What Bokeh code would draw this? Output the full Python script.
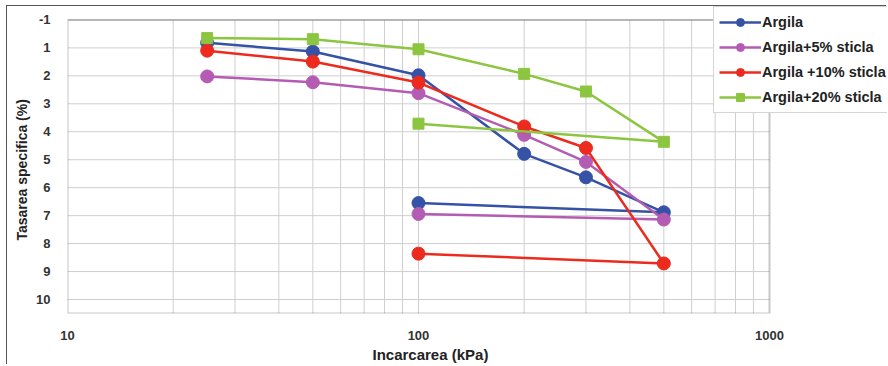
from bokeh.plotting import figure
from bokeh.models import (Range1d, FixedTicker, Legend, LegendItem, BoxAnnotation,
                          PrintfTickFormatter, Title)
from bokeh.embed import file_html
from bokeh.resources import INLINE

# Data: loading path then unloading back to 100 kPa
pressure = [25, 50, 100, 200, 300, 500, 100]
argila = [0.82, 1.13, 1.98, 4.79, 5.63, 6.88, 6.55]
argila5 = [2.02, 2.23, 2.62, 4.11, 5.08, 7.14, 6.94]
argila10 = [1.10, 1.49, 2.24, 3.81, 4.58, 8.71, 8.36]
argila20 = [0.65, 0.69, 1.05, 1.93, 2.56, 4.36, 3.71]

series_names = ["Argila", "Argila+5% sticla", "Argila +10% sticla", "Argila+20% sticla"]
series_values = [argila, argila5, argila10, argila20]
series_colors = ["#3652a6", "#b45cb4", "#ec2a1e", "#8cc640"]
series_markers = ["circle", "circle", "circle", "square"]

y_ticks = [0, 1, 2, 3, 4, 5, 6, 7, 8, 9, 10]
y_tick_labels = {0: "-1"}
x_ticks = [10, 100, 1000]
x_grid = [20, 30, 40, 50, 60, 70, 80, 90, 100, 200, 300, 400, 500, 600, 700, 800, 900]
x_min, x_max = 10, 1000
y_min, y_max = 0, 10.5

# frame extends to the right of x_max so the legend can overlap like the original
x_view_end = 10 ** (1 + 820 / 351)
y_view_top = -0.48

p = figure(width=880, height=359, x_axis_type="log",
           x_range=Range1d(x_min, x_view_end), y_range=Range1d(y_max, y_view_top),
           output_backend="svg", toolbar_location=None,
           min_border_left=60, min_border_right=0, min_border_top=0, min_border_bottom=52)

p.outline_line_color = None
p.background_fill_color = "white"
p.xgrid.visible = False
p.ygrid.visible = False

# grid lines restricted to the data box
p.segment(x0=x_grid, y0=[y_min] * len(x_grid), x1=x_grid, y1=[y_max] * len(x_grid),
          line_color="#cfcfcf", line_width=1)
p.segment(x0=[x_min] * len(y_ticks), y0=y_ticks, x1=[x_max] * len(y_ticks), y1=y_ticks,
          line_color="#cfcfcf", line_width=1)

box = BoxAnnotation(left=x_min, right=x_max, top=y_min, bottom=y_max,
                    fill_alpha=0, line_color="#444444", line_width=2)
p.add_layout(box)

p.xaxis.ticker = FixedTicker(ticks=x_ticks)
p.xaxis.formatter = PrintfTickFormatter(format="%d")
p.yaxis.ticker = FixedTicker(ticks=y_ticks)
p.yaxis.major_label_overrides = y_tick_labels

for ax in (p.xaxis, p.yaxis):
    ax.axis_line_color = None
    ax.major_tick_line_color = None
    ax.minor_tick_line_color = None
    ax.major_label_text_font = "Liberation Sans"
    ax.major_label_text_font_style = "bold"
    ax.major_label_text_font_size = "13px"
    ax.major_label_text_color = "#333333"

p.xaxis.major_label_standoff = 11
p.yaxis.major_label_standoff = 11

xt = Title(text="Incarcarea (kPa)", align="left", offset=305,
           text_font="Liberation Sans", text_font_style="bold",
           text_font_size="15px", text_color="#222222", standoff=2)
p.add_layout(xt, "below")

yt = Title(text="Tasarea specifica (%)", align="left", offset=73,
           text_font="Liberation Sans", text_font_style="bold",
           text_font_size="14px", text_color="#222222", standoff=8)
p.add_layout(yt, "left")

items = []
for name, vals, col, mk in zip(series_names, series_values, series_colors, series_markers):
    ln = p.line(pressure, vals, line_color=col, line_width=2.5)
    if mk == "circle":
        sc = p.scatter(pressure, vals, marker="circle", size=13, fill_color=col, line_color=col)
    else:
        sc = p.scatter(pressure, vals, marker="square", size=11, fill_color=col, line_color=col)
    items.append(LegendItem(label=name, renderers=[ln, sc]))

legend = Legend(items=items, location=(646, 200))
legend.label_text_font = "Liberation Sans"
legend.label_text_font_style = "bold"
legend.label_text_font_size = "14.5px"
legend.label_text_color = "#222222"
legend.glyph_width = 42
legend.glyph_height = 20
legend.label_height = 20
legend.label_width = 135
legend.spacing = 5
legend.padding = 5
legend.margin = 0
legend.label_standoff = 1
legend.border_line_color = "#aaaaaa"
legend.border_line_width = 1
legend.background_fill_color = "white"
legend.background_fill_alpha = 1
p.add_layout(legend, "center")

p.styles = {"margin-left": "6px", "margin-top": "5px",
            "border-left": "1.5px solid #555", "border-top": "1.5px solid #555"}

open("out.html", "w").write(file_html(p, INLINE))
